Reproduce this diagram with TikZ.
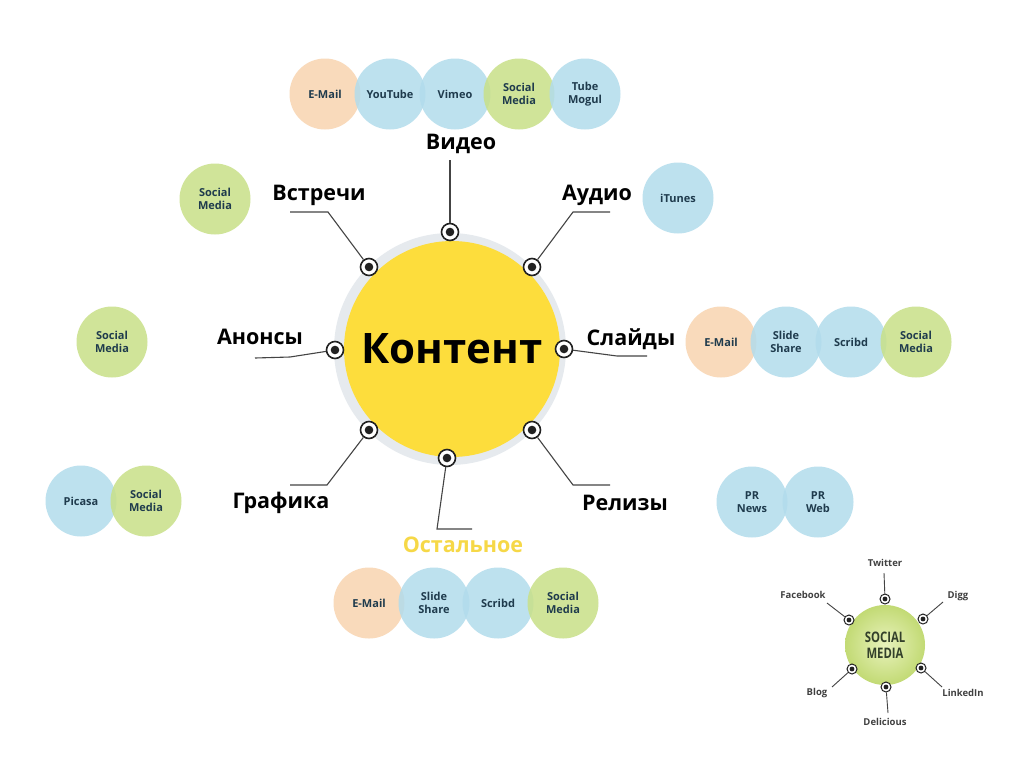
\documentclass[tikz,border=0pt]{standalone}
\usepackage{fontspec}
\setmainfont{Open Sans}
\definecolor{peach}{HTML}{F8D4B0}
\definecolor{bblue}{HTML}{B2DCEC}
\definecolor{bgreen}{HTML}{C8E088}
\definecolor{bubtext}{HTML}{1F3B4D}
\definecolor{mainy}{HTML}{FDDD3C}
\definecolor{ringgray}{HTML}{E6EAEE}
\definecolor{dotc}{HTML}{222222}
\definecolor{linec}{HTML}{444444}
\definecolor{resty}{HTML}{F6D847}
\definecolor{smin}{HTML}{E8F2BC}
\definecolor{smout}{HTML}{C2DA74}
\definecolor{smtext}{HTML}{33402A}
\begin{document}
\begin{tikzpicture}[x=1pt,y=-1pt,
  bub/.style={circle, minimum size=71pt, inner sep=0pt, align=center,
    font=\fontsize{11}{13}\selectfont\bfseries, text=bubtext,
    fill opacity=0.85, text opacity=1},
  pbub/.style={bub, fill=peach},
  bbub/.style={bub, fill=bblue},
  gbub/.style={bub, fill=bgreen},
  dotn/.style={circle, draw=dotc, line width=1.6pt, fill=white, minimum size=17pt, inner sep=0pt,
    path picture={\fill[dotc] (path picture bounding box.center) circle (4.3pt);}},
  sdot/.style={circle, draw=dotc, line width=1pt, fill=white, minimum size=10pt, inner sep=0pt,
    path picture={\fill[dotc] (path picture bounding box.center) circle (2.4pt);}},
  lbl/.style={font=\fontsize{21.5}{24}\selectfont\bfseries, text=black},
  slbl/.style={font=\fontsize{9.5}{11}\selectfont\bfseries, text=black!75},
  conn/.style={draw=linec, line width=1.1pt},
  sconn/.style={draw=linec, line width=0.9pt}
]
\useasboundingbox (0,0) rectangle (1024,766);
\fill[white] (0,0) rectangle (1024,766);

% main circle
\fill[ringgray] (450,349) circle (116);
\node (main) [circle, fill=mainy, minimum size=216pt, inner sep=0pt,
  font=\fontsize{42}{46}\selectfont\bfseries] at (452,349) {Контент};

% dots
\node (dT)  [dotn] at (450,232) {};
\node (dTL) [dotn] at (369,267) {};
\node (dTR) [dotn] at (532,267) {};
\node (dL)  [dotn] at (335,350) {};
\node (dR)  [dotn] at (564,349) {};
\node (dBL) [dotn] at (369,430) {};
\node (dBR) [dotn] at (532,430) {};
\node (dB)  [dotn] at (447,458) {};

% connector ends
\coordinate (vT) at (450,160);
\coordinate (mTL) at (328,212); \coordinate (eTL) at (290,212);
\coordinate (mTR) at (573,212); \coordinate (eTR) at (610,212);
\coordinate (mL) at (290,357); \coordinate (eL) at (255,358);
\coordinate (mR) at (617,356); \coordinate (eR) at (647,356);
\coordinate (mBL) at (327,485); \coordinate (eBL) at (290,485);
\coordinate (mBR) at (573,485); \coordinate (eBR) at (610,485);
\coordinate (mB) at (437,529); \coordinate (eB) at (472,529);

\draw[conn] (dT) -- (vT);
\draw[conn] (dTL) -- (mTL) -- (eTL);
\draw[conn] (dTR) -- (mTR) -- (eTR);
\draw[conn] (dL) -- (mL) -- (eL);
\draw[conn] (dR) -- (mR) -- (eR);
\draw[conn] (dBL) -- (mBL) -- (eBL);
\draw[conn] (dBR) -- (mBR) -- (eBR);
\draw[conn] (dB) -- (mB) -- (eB);

% labels
\node (lVideo) [lbl] at (461,144) {Видео};
\node (lMeet)  [lbl] at (319,195) {Встречи};
\node (lAudio) [lbl] at (597,195) {Аудио};
\node (lAnn)   [lbl] at (260,337) {Анонсы};
\node (lSlide) [lbl] at (631,339) {Слайды};
\node (lGraph) [lbl] at (281,503) {Графика};
\node (lRel)   [lbl] at (625,503) {Релизы};
\node (lRest)  [lbl, text=resty] at (463,545) {Остальное};

% top row
\node (t1) [pbub] at (325,94) {E-Mail};
\node (t2) [bbub] at (390,94) {YouTube};
\node (t3) [bbub] at (455,94) {Vimeo};
\node (t4) [gbub] at (519,94) {Social\\Media};
\node (t5) [bbub] at (585,94) {Tube\\Mogul};

% singles
\node (s1) [gbub] at (215,199) {Social\\Media};
\node (s2) [bbub] at (678,198) {iTunes};
\node (s3) [gbub] at (112,342) {Social\\Media};

% right row
\node (r1) [pbub] at (721,342) {E-Mail};
\node (r2) [bbub] at (786,342) {Slide\\Share};
\node (r3) [bbub] at (851,342) {Scribd};
\node (r4) [gbub] at (916,342) {Social\\Media};

% bottom-left pair
\node (p1) [bbub] at (81,501) {Picasa};
\node (p2) [gbub] at (146,501) {Social\\Media};

% PR pair
\node (q1) [bbub] at (752,502) {PR\\News};
\node (q2) [bbub] at (818,502) {PR\\Web};

% bottom row
\node (b1) [pbub] at (369,603) {E-Mail};
\node (b2) [bbub] at (434,603) {Slide\\Share};
\node (b3) [bbub] at (498,603) {Scribd};
\node (b4) [gbub] at (563,603) {Social\\Media};

% social media mini diagram
\node (sm) [circle, minimum size=80pt, inner sep=0pt, inner color=smin, outer color=smout,
  align=center, text=smtext, font=\fontsize{14.5}{15.5}\selectfont\bfseries] at (885,645)
  {\scalebox{0.78}[1]{SOCIAL}\\\scalebox{0.78}[1]{MEDIA}};
\node (sTw) [sdot] at (885,599) {};
\node (sFb) [sdot] at (849,620) {};
\node (sDg) [sdot] at (923,619) {};
\node (sBl) [sdot] at (852,669) {};
\node (sLi) [sdot] at (921,668) {};
\node (sDe) [sdot] at (886,687) {};
\coordinate (eTw) at (884,573);
\coordinate (eFb) at (827,603);
\coordinate (eDg) at (943,602);
\coordinate (eBl) at (832,687);
\coordinate (eLi) at (942,687);
\coordinate (eDe) at (888,713);
\draw[sconn] (sTw) -- (eTw);
\draw[sconn] (sFb) -- (eFb);
\draw[sconn] (sDg) -- (eDg);
\draw[sconn] (sBl) -- (eBl);
\draw[sconn] (sLi) -- (eLi);
\draw[sconn] (sDe) -- (eDe);
\node (tTw) [slbl] at (885,563) {Twitter};
\node (tFb) [slbl] at (803,595) {Facebook};
\node (tDg) [slbl] at (958,596) {Digg};
\node (tBl) [slbl] at (817,693) {Blog};
\node (tLi) [slbl] at (963,693) {LinkedIn};
\node (tDe) [slbl] at (885,722) {Delicious};
\end{tikzpicture}
\end{document}
